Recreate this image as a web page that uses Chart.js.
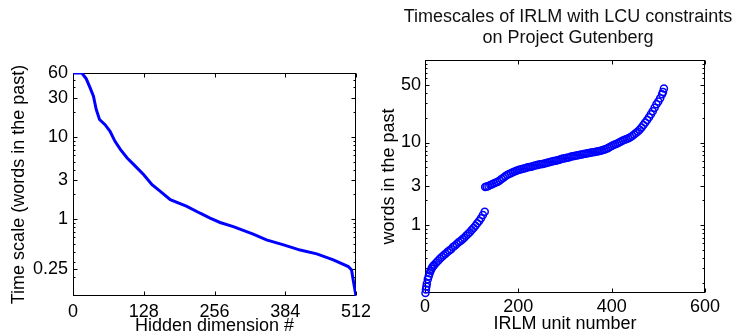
<!DOCTYPE html>
<html>
<head>
<meta charset="utf-8">
<script src="https://cdn.jsdelivr.net/npm/chart.js@4"></script>
<style>
  html, body { margin: 0; padding: 0; background: #fff; }
  #wrap { position: relative; width: 733px; height: 335px; overflow: hidden; }
  #left { position: absolute; left: 0; top: 0; }
  #right { position: absolute; left: 370px; top: 0; }
</style>
</head>
<body>
<div id="wrap">
  <canvas id="left" width="370" height="335"></canvas>
  <canvas id="right" width="363" height="335"></canvas>
</div>
<script>
(function () {
    // left panel: time scale per hidden dimension (sorted)
    const hiddenDims = [0, 16, 24, 31, 37, 42, 48, 58, 67, 76, 86, 98, 110, 128, 143, 158,
        176, 206, 230, 248, 266, 290, 326, 350, 381, 411, 441, 471, 498, 504, 507, 512];
    const timeScales = [60, 60, 51, 39.6, 31.3, 21.6, 16.3, 14.1, 11.7, 8.85, 7.0, 5.55, 4.6, 3.47, 2.62, 2.18,
        1.72, 1.43, 1.18, 1.03, 0.91, 0.81, 0.656, 0.56, 0.486, 0.42, 0.378, 0.32, 0.265, 0.24, 0.18, 0.116];
    const leftXTicks = [0, 128, 256, 384, 512];
    const leftYTicks = [0.25, 1, 3, 10, 30, 60];

    // right panel: IRLM unit timescales (sorted within the two groups)
    const unitNumbers = [1, 2, 3, 4, 6, 8, 10, 12, 14, 16, 18, 20, 24, 28, 32, 36, 40, 44, 48, 52,
        56, 60, 64, 68, 72, 76, 80, 84, 88, 92, 96, 100, 104, 108, 112, 116, 120, 124, 128,
        129, 132, 136, 140, 144, 148, 152, 156, 160, 164, 168, 172, 176, 180, 184, 188, 192, 196,
        200, 204, 208, 212, 216, 220, 224, 228, 232, 236, 240, 244, 248, 252, 256, 260, 264, 268,
        272, 276, 280, 284, 288, 292, 296, 300, 304, 308, 312, 316, 320, 324, 328, 332, 336, 340,
        344, 348, 352, 356, 360, 364, 368, 372, 376, 380, 384, 388, 392, 396, 400, 404, 408, 412,
        416, 420, 424, 428, 432, 436, 440, 444, 448, 452, 456, 460, 464, 468, 472, 476, 480, 484,
        488, 492, 496, 500, 504, 508, 510, 512];
    const wordsInPast = [0.15, 0.165, 0.18, 0.195, 0.22, 0.24, 0.26, 0.28, 0.295, 0.31, 0.32, 0.33, 0.35,
        0.37, 0.39, 0.41, 0.43, 0.45, 0.47, 0.49, 0.51, 0.54, 0.56, 0.59, 0.62, 0.64, 0.67, 0.70,
        0.74, 0.78, 0.82, 0.87, 0.92, 0.98, 1.05, 1.12, 1.21, 1.32, 1.45,
        2.88, 2.92, 2.98, 3.05, 3.12, 3.2, 3.27, 3.35, 3.47, 3.6, 3.75, 3.9, 4.03, 4.15, 4.25, 4.35,
        4.45, 4.55, 4.63, 4.7, 4.78, 4.85, 4.92, 5.0, 5.05, 5.1, 5.18, 5.25, 5.32, 5.4, 5.45, 5.5,
        5.58, 5.65, 5.72, 5.8, 5.88, 5.95, 6.02, 6.1, 6.2, 6.3, 6.38, 6.45, 6.52, 6.6, 6.7, 6.8,
        6.88, 6.95, 7.02, 7.1, 7.18, 7.25, 7.32, 7.4, 7.48, 7.55, 7.62, 7.7, 7.78, 7.85, 7.95, 8.05,
        8.2, 8.35, 8.55, 8.8, 9.05, 9.3, 9.5, 9.7, 10.0, 10.3, 10.55, 10.8, 11.05, 11.3, 11.6, 12.0,
        12.5, 13.0, 13.6, 14.3, 15.2, 16.3, 17.5, 18.8, 20.3, 22, 24, 26.3, 29, 31.5, 34.5, 38.5,
        41, 45];
    const rightXTicks = [0, 200, 400, 600];
    const rightYTicks = [1, 3, 10, 50];
    const rightTitle = ['Timescales of IRLM with LCU constraints', 'on Project Gutenberg'];

    const FONT = '"Liberation Sans", Arial, Helvetica, sans-serif';
    const tickFont = { family: FONT, size: 18 };
    const labelFont = { family: FONT, size: 18, lineHeight: 1 };
    const BLUE = 'rgb(0, 0, 255)';

    // MATLAB-style box with inward tick marks
    const boxAxes = {
        id: 'boxAxes',
        beforeDatasetsDraw(chart) {
            const { ctx, chartArea: a, scales: { x, y } } = chart;
            ctx.save();
            ctx.strokeStyle = '#000';
            ctx.lineWidth = 1;
            const l = Math.round(a.left) + 0.5, r = Math.round(a.right) - 0.5;
            const t = Math.round(a.top) + 0.5, b = Math.round(a.bottom) - 0.5;
            ctx.strokeRect(l, t, r - l, b - t);
            ctx.beginPath();
            x.ticks.forEach(tk => {
                const px = Math.round(x.getPixelForValue(tk.value)) + 0.5;
                ctx.moveTo(px, b); ctx.lineTo(px, b - 4);
                ctx.moveTo(px, t); ctx.lineTo(px, t + 4);
            });
            const majors = y.ticks.map(tk => tk.value);
            majors.forEach(v => {
                const py = Math.round(y.getPixelForValue(v)) + 0.5;
                ctx.moveTo(l, py); ctx.lineTo(l + 4, py);
                ctx.moveTo(r, py); ctx.lineTo(r - 4, py);
            });
            for (let k = Math.floor(Math.log10(y.min)); k <= Math.ceil(Math.log10(y.max)); k++) {
                for (let d = 1; d <= 9; d++) {
                    const v = d * Math.pow(10, k);
                    if (v < y.min || v > y.max) continue;
                    if (majors.some(m => Math.abs(m - v) < 1e-9)) continue;
                    const py = Math.round(y.getPixelForValue(v)) + 0.5;
                    ctx.moveTo(l, py); ctx.lineTo(l + 2, py);
                    ctx.moveTo(r, py); ctx.lineTo(r - 2, py);
                }
            }
            ctx.stroke();
            ctx.restore();
        }
    };

    const titleAbove = {
        id: 'titleAbove',
        afterDraw(chart) {
            const { ctx, chartArea: a } = chart;
            ctx.save();
            ctx.fillStyle = '#111';
            ctx.font = '18px ' + FONT;
            ctx.textAlign = 'center';
            ctx.textBaseline = 'middle';
            const cx = (a.left + a.right) / 2 + 3;
            ctx.fillText(rightTitle[0], cx, 17);
            ctx.fillText(rightTitle[1], cx, 38);
            ctx.restore();
        }
    };

    function xScale(min, max, ticks, height, pad, title, titlePad) {
        return {
            type: 'linear', min: min, max: max,
            afterBuildTicks: s => { s.ticks = ticks.map(v => ({ value: v })); },
            afterFit: s => { s.height = height; s.paddingLeft = 0; s.paddingRight = 0; },
            grid: { display: false, drawTicks: false },
            border: { display: false },
            ticks: { color: '#000', font: tickFont, padding: pad, maxRotation: 0, autoSkip: false },
            title: { display: true, text: title, color: '#000', font: labelFont, padding: { top: 0, bottom: titlePad } }
        };
    }

    function yScale(min, max, ticks, width, pad, title) {
        return {
            type: 'logarithmic', min: min, max: max,
            afterBuildTicks: s => { s.ticks = ticks.map(v => ({ value: v })); },
            afterFit: s => { s.width = width; s.paddingTop = 0; s.paddingBottom = 0; },
            grid: { display: false, drawTicks: false },
            border: { display: false },
            ticks: { color: '#000', font: tickFont, padding: pad, autoSkip: false, callback: v => String(v) },
            title: { display: true, text: title, color: '#000', font: labelFont, padding: { top: 10, bottom: 0 } }
        };
    }

    new Chart(document.getElementById('left'), {
        type: 'line',
        data: {
            datasets: [{
                data: hiddenDims.map((d, i) => ({ x: d, y: timeScales[i] })),
                borderColor: BLUE,
                borderWidth: 3,
                pointRadius: 0,
                tension: 0,
                fill: false
            }]
        },
        options: {
            responsive: false,
            animation: false,
            events: [],
            layout: { padding: { left: 0, right: 14, top: 73, bottom: 0 } },
            scales: {
                x: xScale(0, 512, leftXTicks, 39, 5, 'Hidden dimension #', 0),
                y: yScale(0.116, 60, leftYTicks, 73, 5, 'Time scale (words in the past)')
            },
            plugins: { legend: { display: false }, tooltip: { enabled: false } }
        },
        plugins: [boxAxes]
    });

    new Chart(document.getElementById('right'), {
        type: 'scatter',
        data: {
            datasets: [{
                data: unitNumbers.map((u, i) => ({ x: u, y: wordsInPast[i] })),
                borderColor: BLUE,
                backgroundColor: 'rgba(0,0,0,0)',
                borderWidth: 1.5,
                pointRadius: 3.5,
                pointStyle: 'circle',
                clip: false
            }]
        },
        options: {
            responsive: false,
            animation: false,
            events: [],
            layout: { padding: { left: 0, right: 28, top: 60, bottom: 0 } },
            scales: {
                x: xScale(0, 600, rightXTicks, 42, 3, 'IRLM unit number', 2),
                y: yScale(0.15, 100, rightYTicks, 55, 4, 'words in the past')
            },
            plugins: { legend: { display: false }, tooltip: { enabled: false } }
        },
        plugins: [boxAxes, titleAbove]
    });
})();
</script>
</body>
</html>
